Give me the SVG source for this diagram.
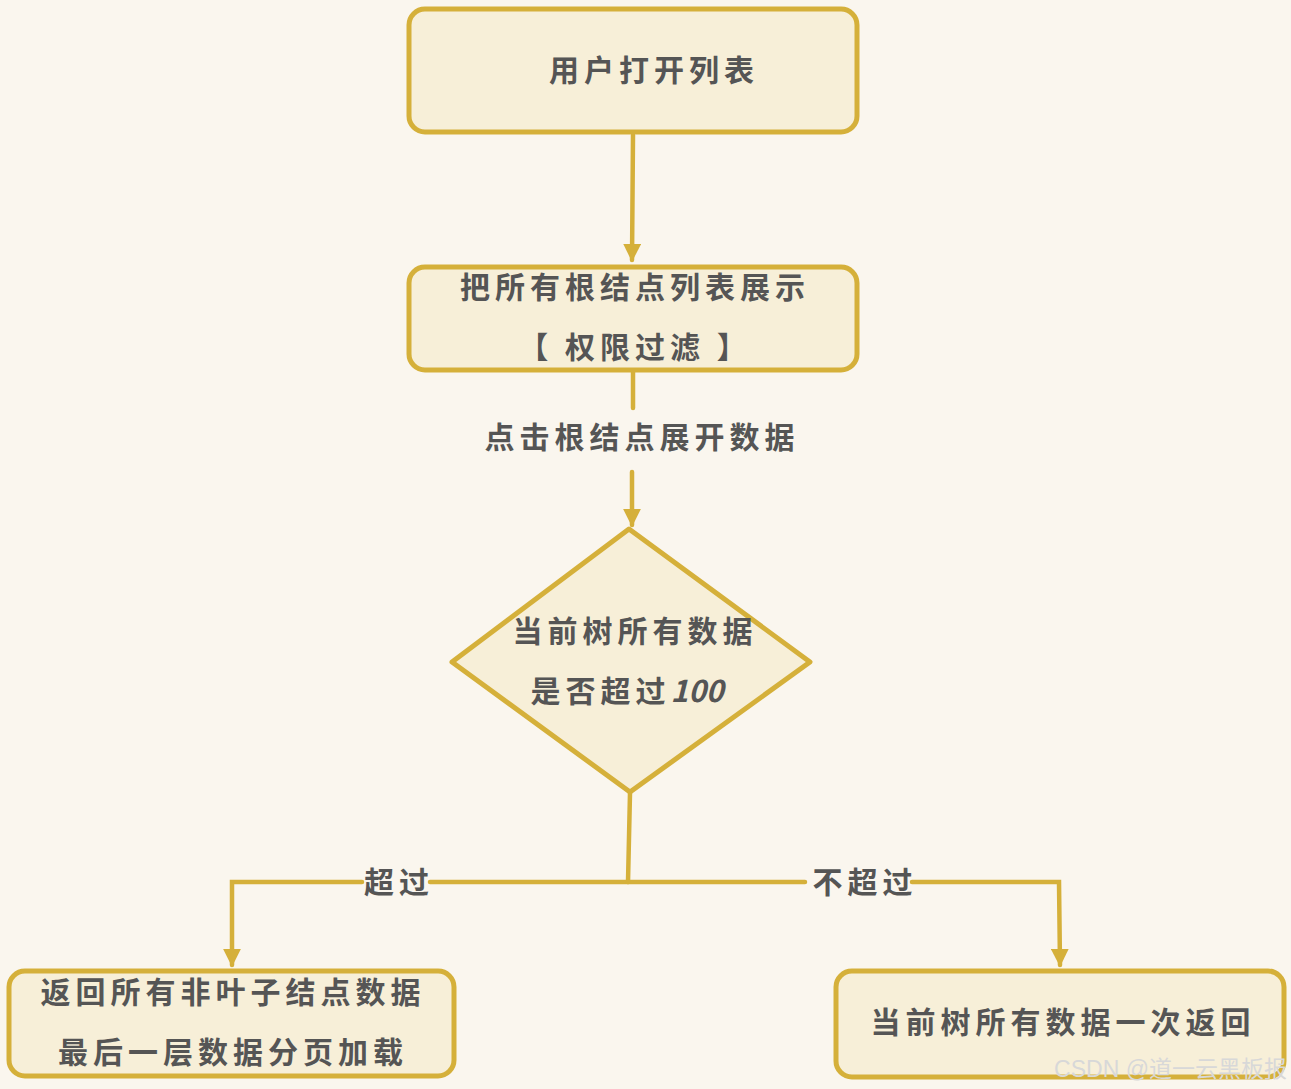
<svg xmlns="http://www.w3.org/2000/svg" width="1291" height="1089" viewBox="0 0 1291 1089">
<style>
.node{fill:#f7efd8;stroke:#d5b03a;stroke-width:5;stroke-linejoin:round}
.edge{fill:none;stroke:#d5b03a;stroke-width:4.5;stroke-linecap:round}
.t{font-family:"Noto Sans CJK SC","Noto Sans",sans-serif;font-weight:bold;font-size:30px;fill:#555555;letter-spacing:5px;text-anchor:middle}
.lbl{font-family:"Noto Sans CJK SC","Noto Sans",sans-serif;font-weight:bold;font-size:30px;fill:#555555;letter-spacing:5px;text-anchor:middle}
</style>
<defs>
<marker id="ah" viewBox="0 0 10 10" refX="9" refY="5" markerWidth="4" markerHeight="4" orient="auto" markerUnits="strokeWidth">
<path d="M0,0 L10,5 L0,10 z" fill="#d5b03a"/>
</marker>
</defs>
<rect width="1291" height="1089" fill="#faf6ee"/>
<g id="connectors">
<path class="edge" d="M633,135 L632,260" marker-end="url(#ah)"/>
<path class="edge" d="M633,372 L633,408"/>
<path class="edge" d="M632,472 L632,525" marker-end="url(#ah)"/>
<path class="edge" d="M630,793 L628,882"/>
<path class="edge" d="M628,882 L430,882 M362,882 L232,882 L232,965" marker-end="url(#ah)"/>
<path class="edge" d="M628,882 L805,882 M912,882 L1059,882 L1060,965" marker-end="url(#ah)"/>
<text class="lbl" x="642" y="448">点击根结点展开数据</text>
<text class="lbl" x="399" y="893">超过</text>
<text class="lbl" x="865" y="893">不超过</text>
</g>
<g id="n1">
<rect class="node" x="409" y="9" width="448" height="123" rx="16"/>
<text class="t" x="654" y="81">用户打开列表</text>
</g>
<g id="n2">
<rect class="node" x="409" y="267" width="448" height="103" rx="16"/>
<text class="t" x="635" y="298">把所有根结点列表展示</text>
<text class="t" x="635" y="358">【 权限过滤 】</text>
</g>
<g id="n3">
<polygon class="node" points="629,529 810,662 630,792 452,662"/>
<text class="t" x="635" y="642">当前树所有数据</text>
<text class="t" x="627" y="702">是否超过<tspan font-style="italic" letter-spacing="0">100</tspan></text>
</g>
<g id="n4">
<rect class="node" x="9" y="971" width="445" height="105" rx="16"/>
<text class="t" x="233" y="1003">返回所有非叶子结点数据</text>
<text class="t" x="233" y="1063">最后一层数据分页加载</text>
</g>
<g id="n5">
<rect class="node" x="836" y="971" width="448" height="106" rx="16"/>
<text class="t" x="1063" y="1033">当前树所有数据一次返回</text>
</g>
<text x="1287" y="1077" font-family="'Liberation Sans','Noto Sans CJK SC',sans-serif" font-size="23" fill="#d8d8d8" text-anchor="end">CSDN @道一云黑板报</text>
</svg>
